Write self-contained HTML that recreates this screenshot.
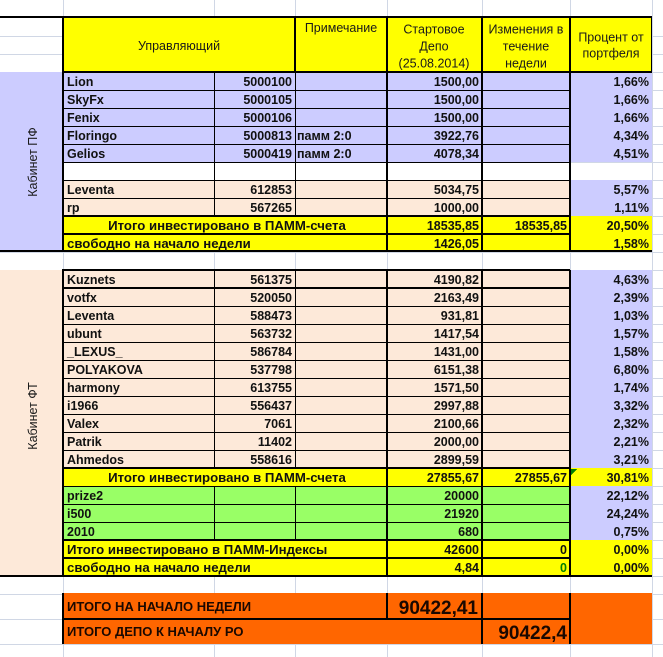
<!DOCTYPE html>
<html><head><meta charset="utf-8"><style>
html,body{margin:0;padding:0;background:#fff;}
svg{display:block;}
.d{font-family:"Liberation Sans","DejaVu Sans",sans-serif;font-weight:bold;font-size:12.5px;fill:#111;}
.cy{font-size:13.2px;}
.h{font-family:"Liberation Sans","DejaVu Sans",sans-serif;font-size:12.5px;fill:#1a1a1a;}
.r{text-anchor:end;}
.c{text-anchor:middle;}
.o{font-family:"Liberation Sans","DejaVu Sans",sans-serif;font-weight:bold;font-size:13px;fill:#1a0800;}
.big{font-family:"Liberation Sans","DejaVu Sans",sans-serif;font-weight:bold;font-size:19px;fill:#1a0800;text-anchor:end;}
</style></head><body>
<svg width="663" height="657" viewBox="0 0 663 657" xmlns="http://www.w3.org/2000/svg" shape-rendering="crispEdges">
<rect x="0" y="0" width="663" height="657" fill="#fff"/>
<g fill="#d0d7e5">
<rect x="0" y="36" width="663" height="1"/><rect x="0" y="54" width="663" height="1"/>
<rect x="0" y="72" width="663" height="1"/><rect x="0" y="90" width="663" height="1"/>
<rect x="0" y="108" width="663" height="1"/><rect x="0" y="126" width="663" height="1"/>
<rect x="0" y="144" width="663" height="1"/><rect x="0" y="162" width="663" height="1"/>
<rect x="0" y="180" width="663" height="1"/><rect x="0" y="198" width="663" height="1"/>
<rect x="0" y="216" width="663" height="1"/><rect x="0" y="234" width="663" height="1"/>
<rect x="0" y="252" width="663" height="1"/><rect x="0" y="270" width="663" height="1"/>
<rect x="0" y="288" width="663" height="1"/><rect x="0" y="306" width="663" height="1"/>
<rect x="0" y="324" width="663" height="1"/><rect x="0" y="342" width="663" height="1"/>
<rect x="0" y="360" width="663" height="1"/><rect x="0" y="378" width="663" height="1"/>
<rect x="0" y="396" width="663" height="1"/><rect x="0" y="414" width="663" height="1"/>
<rect x="0" y="432" width="663" height="1"/><rect x="0" y="450" width="663" height="1"/>
<rect x="0" y="468" width="663" height="1"/><rect x="0" y="486" width="663" height="1"/>
<rect x="0" y="504" width="663" height="1"/><rect x="0" y="522" width="663" height="1"/>
<rect x="0" y="540" width="663" height="1"/><rect x="0" y="558" width="663" height="1"/>
<rect x="0" y="576" width="663" height="1"/><rect x="0" y="594" width="663" height="1"/>
<rect x="0" y="619" width="663" height="1"/><rect x="0" y="644" width="663" height="1"/>
<rect x="63" y="0" width="1" height="657"/><rect x="214" y="0" width="1" height="657"/>
<rect x="295" y="0" width="1" height="657"/><rect x="387" y="0" width="1" height="657"/>
<rect x="482" y="0" width="1" height="657"/><rect x="570" y="0" width="1" height="657"/>
<rect x="652" y="0" width="1" height="657"/>
</g>
<rect x="63" y="17" width="589" height="55" fill="#FFFF00"/>
<rect x="0" y="72" width="63" height="180" fill="#CCCCFF"/>
<rect x="63" y="72" width="589" height="90" fill="#CCCCFF"/>
<rect x="63" y="162" width="507" height="18" fill="#fff"/>
<rect x="63" y="180" width="507" height="36" fill="#FDE9D9"/>
<rect x="570" y="180" width="82" height="36" fill="#CCCCFF"/>
<rect x="63" y="216" width="589" height="36" fill="#FFFF00"/>
<rect x="0" y="270" width="63" height="306" fill="#FDE9D9"/>
<rect x="63" y="270" width="507" height="198" fill="#FDE9D9"/>
<rect x="570" y="270" width="82" height="198" fill="#CCCCFF"/>
<rect x="63" y="468" width="589" height="18" fill="#FFFF00"/>
<rect x="63" y="486" width="507" height="54" fill="#99FF66"/>
<rect x="570" y="486" width="82" height="54" fill="#CCCCFF"/>
<rect x="63" y="540" width="589" height="36" fill="#FFFF00"/>
<rect x="63" y="593" width="589" height="51" fill="#FF6600"/>
<g fill="#000">
<rect x="0" y="16" width="652" height="2"/>
<rect x="63" y="71" width="589" height="2"/>
<rect x="63" y="90" width="507" height="1"/><rect x="63" y="108" width="507" height="1"/>
<rect x="63" y="126" width="507" height="1"/><rect x="63" y="144" width="507" height="1"/>
<rect x="63" y="162" width="507" height="1"/><rect x="63" y="180" width="507" height="1"/>
<rect x="63" y="198" width="507" height="1"/>
<rect x="63" y="215" width="507" height="2"/><rect x="63" y="233" width="507" height="2"/>
<rect x="0" y="250" width="652" height="2"/>
<rect x="63" y="269" width="507" height="2"/><rect x="63" y="287" width="507" height="2"/>
<rect x="63" y="306" width="507" height="1"/><rect x="63" y="324" width="507" height="1"/>
<rect x="63" y="342" width="507" height="1"/><rect x="63" y="360" width="507" height="1"/>
<rect x="63" y="378" width="507" height="1"/><rect x="63" y="396" width="507" height="1"/>
<rect x="63" y="414" width="507" height="1"/><rect x="63" y="432" width="507" height="1"/>
<rect x="63" y="450" width="507" height="1"/>
<rect x="63" y="467" width="507" height="2"/><rect x="63" y="486" width="507" height="1"/>
<rect x="63" y="504" width="507" height="1"/><rect x="63" y="522" width="507" height="1"/>
<rect x="63" y="539" width="507" height="2"/><rect x="63" y="557" width="507" height="2"/>
<rect x="0" y="575" width="652" height="2"/>
<rect x="63" y="618" width="507" height="2"/>
<rect x="62" y="17" width="2" height="235"/><rect x="62" y="269" width="2" height="307"/><rect x="62" y="593" width="2" height="51"/>
<rect x="214" y="72" width="1" height="144"/><rect x="214" y="270" width="1" height="198"/><rect x="214" y="486" width="1" height="54"/>
<rect x="294" y="17" width="2" height="55"/><rect x="295" y="72" width="1" height="144"/><rect x="295" y="270" width="1" height="198"/><rect x="295" y="486" width="1" height="54"/>
<rect x="386" y="17" width="2" height="235"/><rect x="386" y="270" width="2" height="306"/><rect x="386" y="593" width="2" height="26"/>
<rect x="481" y="17" width="2" height="235"/><rect x="481" y="270" width="2" height="306"/><rect x="481" y="593" width="2" height="51"/>
<rect x="569" y="17" width="2" height="235"/><rect x="569" y="270" width="2" height="306"/><rect x="569" y="593" width="2" height="51"/>
<rect x="651" y="17" width="1" height="55"/>
</g>
<polygon points="571,469 577,469 571,475" fill="#008000"/>
<text class="h c" x="179" y="50">Управляющий</text>
<text class="h c" x="341" y="32">Примечание</text>
<text class="h c" x="434" y="33.5">Стартовое</text>
<text class="h c" x="434" y="50.5">Депо</text>
<text class="h c" x="434" y="67.5">(25.08.2014)</text>
<text class="h c" x="526" y="33.5">Изменения в</text>
<text class="h c" x="526" y="50.5">течение</text>
<text class="h c" x="526" y="67.5">недели</text>
<text class="h c" x="611" y="41.5">Процент от</text>
<text class="h c" x="611" y="57.5">портфеля</text>
<text class="h c" transform="translate(37,162) rotate(-90)">Кабинет ПФ</text>
<text class="h c" transform="translate(37,416) rotate(-90)">Кабинет ФТ</text>
<g class="d">
<text x="67" y="86">Lion</text><text class="r" x="292" y="86">5000100</text><text class="r" x="479" y="86">1500,00</text><text class="r" x="649" y="86">1,66%</text>
<text x="67" y="104">SkyFx</text><text class="r" x="292" y="104">5000105</text><text class="r" x="479" y="104">1500,00</text><text class="r" x="649" y="104">1,66%</text>
<text x="67" y="122">Fenix</text><text class="r" x="292" y="122">5000106</text><text class="r" x="479" y="122">1500,00</text><text class="r" x="649" y="122">1,66%</text>
<text x="67" y="140">Floringo</text><text class="r" x="292" y="140">5000813</text><text x="297" y="140">памм 2:0</text><text class="r" x="479" y="140">3922,76</text><text class="r" x="649" y="140">4,34%</text>
<text x="67" y="158">Gelios</text><text class="r" x="292" y="158">5000419</text><text x="297" y="158">памм 2:0</text><text class="r" x="479" y="158">4078,34</text><text class="r" x="649" y="158">4,51%</text>
<text x="67" y="194">Leventa</text><text class="r" x="292" y="194">612853</text><text class="r" x="479" y="194">5034,75</text><text class="r" x="649" y="194">5,57%</text>
<text x="67" y="212">rp</text><text class="r" x="292" y="212">567265</text><text class="r" x="479" y="212">1000,00</text><text class="r" x="649" y="212">1,11%</text>
<text class="c cy" x="227" y="230">Итого инвестировано в ПАММ-счета</text><text class="r" x="479" y="230">18535,85</text><text class="r" x="567" y="230">18535,85</text><text class="r" x="649" y="230">20,50%</text>
<text class="cy" x="67" y="248">свободно на начало недели</text><text class="r" x="479" y="248">1426,05</text><text class="r" x="649" y="248">1,58%</text>
</g>
<g class="d">
<text x="67" y="284">Kuznets</text><text class="r" x="292" y="284">561375</text><text class="r" x="479" y="284">4190,82</text><text class="r" x="649" y="284">4,63%</text>
<text x="67" y="302">votfx</text><text class="r" x="292" y="302">520050</text><text class="r" x="479" y="302">2163,49</text><text class="r" x="649" y="302">2,39%</text>
<text x="67" y="320">Leventa</text><text class="r" x="292" y="320">588473</text><text class="r" x="479" y="320">931,81</text><text class="r" x="649" y="320">1,03%</text>
<text x="67" y="338">ubunt</text><text class="r" x="292" y="338">563732</text><text class="r" x="479" y="338">1417,54</text><text class="r" x="649" y="338">1,57%</text>
<text x="67" y="356">_LEXUS_</text><text class="r" x="292" y="356">586784</text><text class="r" x="479" y="356">1431,00</text><text class="r" x="649" y="356">1,58%</text>
<text x="67" y="374">POLYAKOVA</text><text class="r" x="292" y="374">537798</text><text class="r" x="479" y="374">6151,38</text><text class="r" x="649" y="374">6,80%</text>
<text x="67" y="392">harmony</text><text class="r" x="292" y="392">613755</text><text class="r" x="479" y="392">1571,50</text><text class="r" x="649" y="392">1,74%</text>
<text x="67" y="410">i1966</text><text class="r" x="292" y="410">556437</text><text class="r" x="479" y="410">2997,88</text><text class="r" x="649" y="410">3,32%</text>
<text x="67" y="428">Valex</text><text class="r" x="292" y="428">7061</text><text class="r" x="479" y="428">2100,66</text><text class="r" x="649" y="428">2,32%</text>
<text x="67" y="446">Patrik</text><text class="r" x="292" y="446">11402</text><text class="r" x="479" y="446">2000,00</text><text class="r" x="649" y="446">2,21%</text>
<text x="67" y="464">Ahmedos</text><text class="r" x="292" y="464">558616</text><text class="r" x="479" y="464">2899,59</text><text class="r" x="649" y="464">3,21%</text>
<text class="c cy" x="227" y="482">Итого инвестировано в ПАММ-счета</text><text class="r" x="479" y="482">27855,67</text><text class="r" x="567" y="482">27855,67</text><text class="r" x="649" y="482">30,81%</text>
<text x="67" y="500">prize2</text><text class="r" x="479" y="500">20000</text><text class="r" x="649" y="500">22,12%</text>
<text x="67" y="518">i500</text><text class="r" x="479" y="518">21920</text><text class="r" x="649" y="518">24,24%</text>
<text x="67" y="536">2010</text><text class="r" x="479" y="536">680</text><text class="r" x="649" y="536">0,75%</text>
<text class="cy" x="67" y="554">Итого инвестировано в ПАММ-Индексы</text><text class="r" x="479" y="554">42600</text><text class="r" x="567" y="554">0</text><text class="r" x="649" y="554">0,00%</text>
<text class="cy" x="67" y="572">свободно на начало недели</text><text class="r" x="479" y="572">4,84</text><text class="r" x="567" y="572" style="fill:#008000">0</text><text class="r" x="649" y="572">0,00%</text>
</g>
<text class="o" x="67" y="611">ИТОГО НА НАЧАЛО НЕДЕЛИ</text>
<text class="big" x="478" y="614">90422,41</text>
<text class="o" x="67" y="636">ИТОГО ДЕПО К НАЧАЛУ РО</text>
<text class="big" x="567" y="639">90422,4</text>
</svg>
</body></html>
